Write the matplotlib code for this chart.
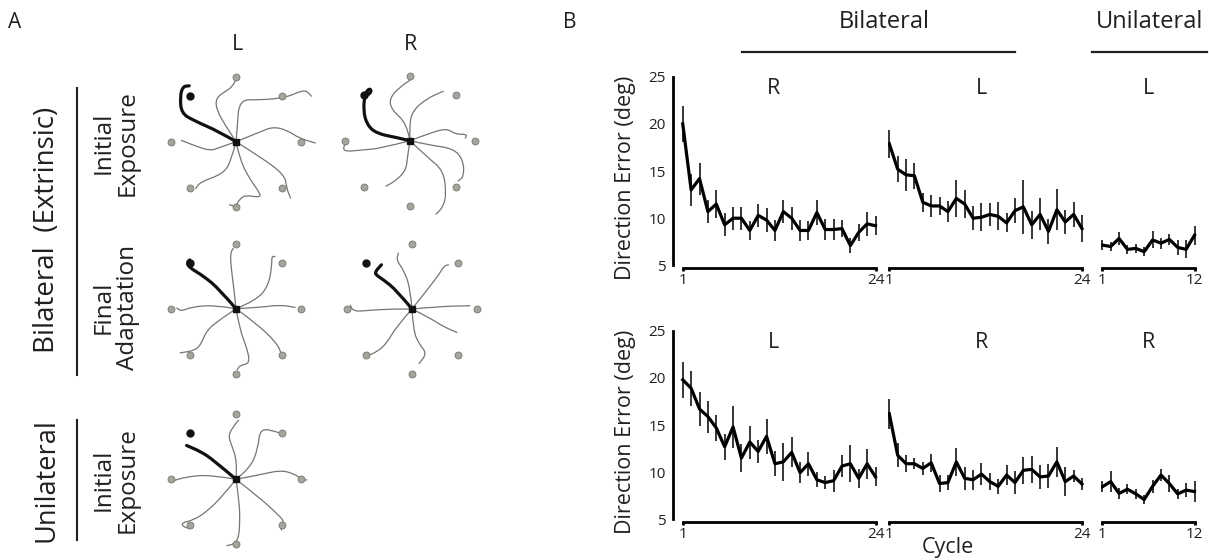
import numpy as np
import matplotlib.pyplot as plt
from matplotlib.path import Path
from matplotlib.patches import PathPatch

plt.rcParams['font.family'] = ['Open Sans', 'DejaVu Sans']
INK = '#231f20'

# ---------------- Panel B data: direction error (deg) per cycle ----------------
cycles24 = np.arange(1, 25)
cycles12 = np.arange(1, 13)

bi_R_top = [20.0, 13.0, 14.2, 10.7, 11.5, 9.3, 10.0, 10.0, 8.7, 10.3, 9.8, 8.7,
            10.7, 10.0, 8.7, 8.7, 10.6, 8.8, 8.8, 8.9, 7.1, 8.5, 9.4, 9.2]
bi_R_top_err = [1.9, 1.7, 1.7, 1.25, 1.5, 1.2, 1.2, 1.2, 1.0, 1.2, 1.25, 1.1,
                1.2, 1.2, 1.1, 1.0, 1.3, 1.1, 1.1, 0.9, 0.8, 0.9, 1.3, 1.0]
bi_L_top = [17.9, 15.2, 14.6, 14.5, 11.7, 11.3, 11.3, 10.7, 12.1, 11.5, 10.0, 10.1,
            10.4, 10.2, 9.5, 10.8, 11.2, 9.3, 10.4, 8.6, 10.9, 9.6, 10.4, 8.9]
bi_L_top_err = [1.5, 1.4, 1.7, 1.4, 1.0, 1.15, 1.0, 1.15, 2.0, 1.5, 1.25, 1.5,
                1.2, 1.5, 1.0, 1.3, 2.9, 1.5, 1.7, 1.3, 2.2, 1.25, 1.3, 1.4]
uni_L_top = [7.15, 7.0, 7.85, 6.7, 6.8, 6.45, 7.7, 7.35, 7.75, 6.9, 6.7, 8.2]
uni_L_top_err = [0.55, 0.45, 0.7, 0.45, 0.5, 0.45, 0.9, 0.6, 0.55, 0.8, 0.95, 1.0]

bi_L_bot = [19.8, 18.9, 16.7, 15.9, 14.7, 12.7, 14.8, 11.5, 13.2, 12.2, 13.8, 10.9,
            11.1, 12.1, 9.95, 10.9, 9.2, 8.9, 9.1, 10.65, 10.9, 9.35, 10.9, 9.5]
bi_L_bot_err = [1.9, 1.85, 1.8, 1.7, 1.4, 1.4, 2.2, 1.5, 1.75, 1.2, 1.85, 1.3,
                2.0, 1.6, 1.1, 1.25, 0.8, 0.7, 1.15, 1.15, 1.95, 1.0, 1.6, 1.0]
bi_R_bot = [16.2, 11.8, 10.9, 10.9, 10.4, 11.0, 8.8, 8.9, 11.1, 9.35, 9.2, 9.8,
            9.0, 8.5, 9.7, 8.9, 10.2, 10.3, 9.5, 9.6, 11.1, 9.0, 9.6, 8.75]
bi_R_bot_err = [1.6, 1.25, 0.9, 0.6, 0.7, 0.95, 0.9, 0.8, 1.45, 1.25, 1.05, 1.15,
                0.9, 0.8, 1.05, 1.25, 1.4, 1.4, 1.25, 1.25, 1.6, 1.5, 0.6, 0.6]
uni_R_bot = [8.45, 9.0, 7.75, 8.2, 7.7, 7.1, 8.5, 9.7, 8.8, 7.7, 8.1, 7.95]
uni_R_bot_err = [0.6, 1.15, 0.6, 0.5, 0.5, 0.5, 0.7, 0.65, 0.9, 0.5, 0.75, 1.1]

# ---------------- Panel A data: hand paths (target radius = 1) ----------------
# each list: 7 grey reaches, last entry is the black reach to the 135 deg target
traj_init_L = [
    [(0, 0), (-0.17, 0.26), (-0.30, 0.49), (-0.31, 0.67), (-0.17, 0.77), (-0.05, 0.85), (0, 0.97)],
    [(0, 0), (0.02, 0.23), (0.05, 0.65), (0.37, 0.64), (0.78, 0.68), (1.06, 0.81), (1.16, 0.70)],
    [(0, 0), (0.37, 0.15), (0.57, 0.23), (0.78, 0.18), (0.98, 0.05), (1.22, -0.02)],
    [(0, 0), (0.37, -0.23), (0.75, -0.51), (0.78, -0.72), (0.84, -0.87)],
    [(0, 0), (0.06, -0.28), (0.22, -0.59), (0.37, -0.79), (0.37, -0.86), (0.14, -0.82),
     (0.04, -0.90), (0, -1.0), (-0.10, -0.97)],
    [(0, 0), (-0.07, -0.28), (-0.19, -0.49), (-0.55, -0.62), (-0.62, -0.72)],
    [(0, 0), (-0.25, -0.09), (-0.40, -0.14), (-0.61, -0.07), (-0.84, 0.02)],
    [(0, 0), (-0.25, 0.15), (-0.66, 0.33), (-0.84, 0.44), (-0.86, 0.69), (-0.82, 0.85), (-0.72, 0.86)],
]
traj_init_R = [
    [(0, 0), (-0.05, 0.27), (-0.28, 0.47), (-0.32, 0.65), (-0.15, 0.83), (0, 0.93)],
    [(0, 0), (-0.01, 0.27), (0.05, 0.47), (0.26, 0.65), (0.51, 0.76)],
    [(0, 0), (0.31, 0.12), (0.57, 0.19), (0.69, 0.10), (0.88, 0.10), (0.85, 0.04)],
    [(0, 0), (0.31, -0.07), (0.67, -0.12), (0.82, -0.30), (0.83, -0.55), (0.74, -0.62)],
    [(0, 0), (0.26, -0.25), (0.51, -0.45), (0.56, -0.81), (0.51, -1.02), (0.40, -1.13)],
    [(0, 0), (-0.04, -0.25), (-0.06, -0.45), (-0.21, -0.61), (-0.37, -0.70)],
    [(0, 0), (-0.46, -0.12), (-0.72, -0.14), (-1.0, -0.17), (-1.03, -0.10), (-0.98, -0.04)],
    [(0, 0), (-0.21, 0.05), (-0.51, 0.11), (-0.66, 0.24), (-0.72, 0.47), (-0.69, 0.73),
     (-0.62, 0.81), (-0.59, 0.75), (-0.67, 0.69)],
]
traj_final_L = [
    [(0, 0), (-0.03, 0.29), (-0.07, 0.59), (-0.09, 0.85), (-0.04, 0.93)],
    [(0, 0), (0.32, 0.13), (0.50, 0.36), (0.55, 0.65), (0.55, 0.81), (0.60, 0.80)],
    [(0, 0), (0.37, 0.02), (0.68, 0.06), (0.91, 0.02)],
    [(0, 0), (0.32, -0.23), (0.63, -0.53), (0.70, -0.70)],
    [(0, 0), (0.06, -0.33), (0.16, -0.58), (0.22, -0.84), (0.06, -0.87), (0.02, -0.94)],
    [(0, 0), (-0.25, -0.17), (-0.45, -0.33), (-0.53, -0.53), (-0.62, -0.64), (-0.86, -0.68)],
    [(0, 0), (-0.35, 0.06), (-0.71, 0.02), (-0.84, -0.04), (-0.91, 0.01)],
    [(0, 0), (-0.25, 0.29), (-0.48, 0.49), (-0.73, 0.64), (-0.75, 0.72), (-0.71, 0.75)],
]
traj_final_R = [
    [(0, 0), (-0.03, 0.34), (-0.13, 0.60), (-0.24, 0.75), (-0.21, 0.86)],
    [(0, 0), (0.23, 0.29), (0.43, 0.55), (0.49, 0.66), (0.56, 0.68)],
    [(0, 0), (0.43, 0.04), (0.89, 0.05)],
    [(0, 0), (0.28, -0.14), (0.48, -0.27), (0.69, -0.36)],
    [(0, 0), (0.02, -0.32), (0.10, -0.53), (0.23, -0.68), (0.11, -0.84)],
    [(0, 0), (-0.24, -0.27), (-0.39, -0.53), (-0.54, -0.66), (-0.69, -0.72)],
    [(0, 0), (-0.34, 0.0), (-0.65, -0.02), (-0.90, -0.04), (-0.95, 0.06)],
    [(0, 0), (-0.24, 0.29), (-0.44, 0.45), (-0.55, 0.52), (-0.57, 0.57), (-0.47, 0.68)],
]
traj_uni_L = [
    [(0, 0), (0.02, 0.27), (-0.07, 0.53), (-0.12, 0.68), (-0.02, 0.84), (0.04, 0.91)],
    [(0, 0), (0.22, 0.17), (0.34, 0.48), (0.37, 0.79), (0.63, 0.73), (0.70, 0.70)],
    [(0, 0), (0.37, 0.07), (0.68, 0.14), (0.88, 0.09), (1.04, -0.01), (1.09, -0.01)],
    [(0, 0), (0.37, -0.29), (0.60, -0.50), (0.75, -0.65), (0.68, -0.68), (0.70, -0.78)],
    [(0, 0), (0.05, -0.34), (0.06, -0.65), (0.04, -0.91), (-0.04, -1.0), (-0.14, -1.02)],
    [(0, 0), (-0.19, -0.24), (-0.45, -0.50), (-0.66, -0.63), (-0.84, -0.67), (-0.81, -0.73), (-0.71, -0.76)],
    [(0, 0), (-0.40, 0.07), (-0.76, 0.04), (-0.99, -0.03)],
    [(0, 0), (-0.35, 0.30), (-0.55, 0.43), (-0.76, 0.52)],
]
target_angles = [90, 45, 0, -45, -90, -135, 180, 135]

W, H = 1209, 560


def px_box(left, top, width, height):
    return [left / W, 1 - (top + height) / H, width / W, height / H]


def smooth(pts):
    pts = np.asarray(pts, dtype=float)
    verts, codes = [pts[0]], [Path.MOVETO]
    for i in range(1, len(pts) - 1):
        verts += [pts[i], (pts[i] + pts[i + 1]) / 2]
        codes += [Path.CURVE3, Path.CURVE3]
    verts.append(pts[-1])
    codes.append(Path.LINETO)
    return Path(verts, codes)


def reach_plot(cx, cy, paths):
    half = 85
    ax = fig.add_axes(px_box(cx - half, cy - half, 2 * half, 2 * half))
    lim = half / 65
    ax.set_xlim(-lim, lim)
    ax.set_ylim(-lim, lim)
    ax.axis('off')
    for p in paths[:-1]:
        ax.add_patch(PathPatch(smooth(p), fill=False, ec='#74766f', lw=0.9,
                               capstyle='round', joinstyle='round'))
    ax.add_patch(PathPatch(smooth(paths[-1]), fill=False, ec='#111111', lw=2.3,
                           capstyle='round', joinstyle='round'))
    ang = np.deg2rad(target_angles)
    ax.plot(np.cos(ang[:-1]), np.sin(ang[:-1]), 'o', ms=5, mfc='#a4a69e', mec='#74766f', mew=0.6)
    ax.plot(np.cos(ang[-1]), np.sin(ang[-1]), 'o', ms=5, color='#111111')
    ax.plot(0, 0, 's', ms=4, color='#111111')


def error_panel(box, x, y, err, title, title_x, show_y):
    ax = fig.add_axes(px_box(*box))
    ax.errorbar(x, y, yerr=err, color='k', lw=2.3, elinewidth=1.1, capsize=0)
    ax.set_ylim(4.7, 26)
    ax.set_xlim(-0.2 if show_y else 0.8, x[-1] + 0.25)
    ax.patch.set_alpha(0)
    for s in ['top', 'right']:
        ax.spines[s].set_visible(False)
    ax.spines['bottom'].set_bounds(1, x[-1])
    ax.spines['bottom'].set_linewidth(2)
    ax.set_xticks([1, x[-1]])
    ax.tick_params(axis='x', direction='out', length=2.5, width=2, pad=1,
                   labelsize=11, labelcolor=INK)
    if show_y:
        ax.spines['left'].set_bounds(5, 25)
        ax.spines['left'].set_linewidth(2)
        ax.set_yticks([5, 10, 15, 20, 25])
        ax.set_yticks([5, 25], minor=True)
        ax.tick_params(axis='y', which='major', length=0, pad=5, labelsize=11, labelcolor=INK)
        ax.tick_params(axis='y', which='minor', length=3, width=1.5)
    else:
        ax.spines['left'].set_visible(False)
        ax.set_yticks([])
    ax.text(title_x, 23.8, title, ha='center', va='center', fontsize=15.5, color=INK)
    return ax


fig = plt.figure(figsize=(W / 100, H / 100), dpi=100)

# ---- Panel A ----
reach_plot(236, 141.7, traj_init_L)
reach_plot(410, 140.7, traj_init_R)
reach_plot(236, 308.7, traj_final_L)
reach_plot(412, 309, traj_final_R)
reach_plot(236, 479.3, traj_uni_L)

# ---- Panel B ----
h = 200.9
for top, data in [(67.3, [(bi_R_top, bi_R_top_err, 'R'), (bi_L_top, bi_L_top_err, 'L'),
                          (uni_L_top, uni_L_top_err, 'L')]),
                  (321.3, [(bi_L_bot, bi_L_bot_err, 'L'), (bi_R_bot, bi_R_bot_err, 'R'),
                           (uni_R_bot, uni_R_bot_err, 'R')])]:
    error_panel((672.7, top, 204.9, h), cycles24, *data[0], 11.8, True)
    error_panel((887.6, top, 196.5, h), cycles24, *data[1], 12.0, False)
    error_panel((1100.6, top, 96.0, h), cycles12, *data[2], 6.5, False)

# ---- overlay for labels and bars ----
ov = fig.add_axes([0, 0, 1, 1], zorder=-1)
ov.set_xlim(0, W)
ov.set_ylim(H, 0)
ov.axis('off')

txt = dict(ha='center', va='center', color=INK)
ov.text(15, 22, 'A', fontsize=15, **txt)
ov.text(570, 22, 'B', fontsize=15, **txt)
ov.text(237, 45, 'L', fontsize=15.5, **txt)
ov.text(410, 45, 'R', fontsize=15.5, **txt)
ov.text(47, 230, 'Bilateral  (Extrinsic)', fontsize=20, rotation=90, **txt)
ov.text(47, 480, 'Unilateral', fontsize=19.5, rotation=90, **txt)
for yc, lab in [(143, 'Initial\nExposure'), (307, 'Final\nAdaptation'), (480, 'Initial\nExposure')]:
    ov.text(116, yc, lab, fontsize=17.5, rotation=90, linespacing=1.0, multialignment='center', **txt)
ov.plot([77, 77], [88, 375], color=INK, lw=1.5)
ov.plot([77, 77], [420, 540], color=INK, lw=1.5)

ov.text(884, 22, 'Bilateral', fontsize=17, **txt)
ov.text(1150, 22, 'Unilateral', fontsize=17, **txt)
ov.plot([742, 1015], [52, 52], color=INK, lw=1.6)
ov.plot([1092, 1207], [52, 52], color=INK, lw=1.6)
ov.text(626, 178, 'Direction Error (deg)', fontsize=15.5, rotation=90, **txt)
ov.text(626, 432, 'Direction Error (deg)', fontsize=15.5, rotation=90, **txt)
ov.text(948, 547, 'Cycle', fontsize=15.5, **txt)

fig.savefig('out.png', dpi=100)
